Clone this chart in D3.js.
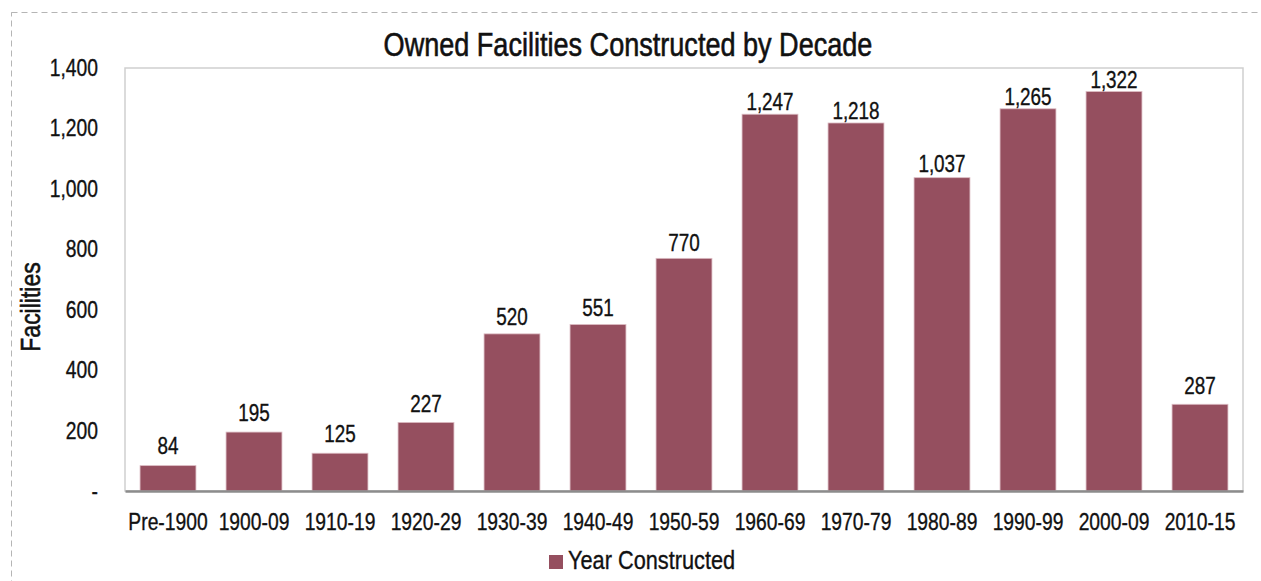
<!DOCTYPE html>
<html>
<head>
<meta charset="utf-8">
<script src="https://cdn.jsdelivr.net/npm/d3@7"></script>
<style>
  body { margin: 0; background: #fff; }
  svg text { font-family: "Liberation Sans Narrow", "Arial Narrow", "Liberation Sans", Arial, sans-serif;
             fill: #111; stroke: #111; stroke-width: 0.35px; }
</style>
</head>
<body>
<div id="chart"></div>
<script>
// data
var decades = ["Pre-1900", "1900-09", "1910-19", "1920-29", "1930-39", "1940-49", "1950-59",
               "1960-69", "1970-79", "1980-89", "1990-99", "2000-09", "2010-15"];
var facilities = [84, 195, 125, 227, 520, 551, 770, 1247, 1218, 1037, 1265, 1322, 287];
var yTicks = [0, 200, 400, 600, 800, 1000, 1200, 1400];
var seriesName = "Year Constructed";
var chartTitle = "Owned Facilities Constructed by Decade";

var data = decades.map(function(d, i) { return {decade: d, value: facilities[i]}; });

var W = 1261, H = 581;
var margin = {top: 68, right: 18, bottom: 90, left: 125};
var width = W - margin.left - margin.right;
var height = H - margin.top - margin.bottom;

var barColor = "#954f5f";

// no Arial Narrow here, so squeeze the regular face to narrow proportions
function narrow(sel) {
    sel.each(function() {
        var len = this.getComputedTextLength();
        d3.select(this)
            .attr("textLength", len * 0.82)
            .attr("lengthAdjust", "spacingAndGlyphs");
    });
}

var svg = d3.select("#chart").append("svg")
    .attr("width", W)
    .attr("height", H);

// dashed outer frame
svg.append("rect")
    .attr("x", 11.5).attr("y", 12.5)
    .attr("width", W + 20).attr("height", H + 20)
    .attr("fill", "none")
    .attr("stroke", "#b5b5b5")
    .attr("stroke-dasharray", "6,4");

var g = svg.append("g")
    .attr("transform", "translate(" + margin.left + "," + margin.top + ")");

var x = d3.scaleBand().domain(decades).range([0, width]).paddingInner(0.35).paddingOuter(0.175);
var y = d3.scaleLinear().domain([0, 1400]).range([height, 0]);
// Excel nudges the labels a little closer to tall bars
var yLabel = d3.scaleLinear().domain([0, 1400]).range([height - 12, -3]);

// plot area frame
g.append("rect")
    .attr("x", 0).attr("y", 0)
    .attr("width", width).attr("height", height)
    .attr("fill", "none")
    .attr("stroke", "#cfcfcf")
    .attr("stroke-width", 1.5);

g.selectAll(".bar")
    .data(data)
    .enter().append("rect")
    .attr("class", "bar")
    .attr("x", function(d) { return x(d.decade); })
    .attr("y", function(d) { return y(d.value); })
    .attr("width", x.bandwidth())
    .attr("height", function(d) { return height - y(d.value); })
    .attr("fill", barColor)
    .attr("stroke", "#dcbcc3")
    .attr("stroke-width", 0.8);

g.selectAll(".val")
    .data(data)
    .enter().append("text")
    .attr("class", "val")
    .attr("x", function(d) { return x(d.decade) + x.bandwidth() / 2; })
    .attr("y", function(d) { return yLabel(d.value); })
    .attr("text-anchor", "middle")
    .attr("font-size", 23)
    .text(function(d) { return d3.format(",")(d.value); })
    .call(narrow);

// x axis
var xAxis = g.append("g")
    .attr("transform", "translate(0," + height + ")")
    .call(d3.axisBottom(x).tickSize(0).tickPadding(22));
xAxis.select(".domain").attr("stroke", "#8c8c8c").attr("stroke-width", 2.5);
xAxis.selectAll("text").attr("font-size", 23.5).attr("fill", "#111").call(narrow);

// y axis
var yAxis = g.append("g")
    .call(d3.axisLeft(y).tickValues(yTicks).tickSize(0).tickPadding(27)
        .tickFormat(function(d) { return d === 0 ? "-" : d3.format(",")(d); }));
yAxis.select(".domain").remove();
yAxis.selectAll("text").attr("font-size", 23.5).attr("fill", "#111").call(narrow);

// title
svg.append("text")
    .attr("x", 628).attr("y", 56)
    .attr("text-anchor", "middle")
    .attr("font-size", 33)
    .style("stroke-width", "0.6px")
    .text(chartTitle)
    .call(narrow);

// y label
svg.append("text")
    .attr("transform", "translate(40,307) rotate(-90)")
    .attr("text-anchor", "middle")
    .attr("font-size", 28)
    .style("stroke-width", "0.6px")
    .text("Facilities")
    .call(narrow);

// legend
var legend = svg.append("g").attr("transform", "translate(549,569)");
legend.append("rect")
    .attr("x", 0).attr("y", -14)
    .attr("width", 14).attr("height", 14)
    .attr("fill", barColor);
legend.append("text")
    .attr("x", 19).attr("y", 0)
    .attr("font-size", 26.5)
    .text(seriesName)
    .call(narrow);
</script>
</body>
</html>
